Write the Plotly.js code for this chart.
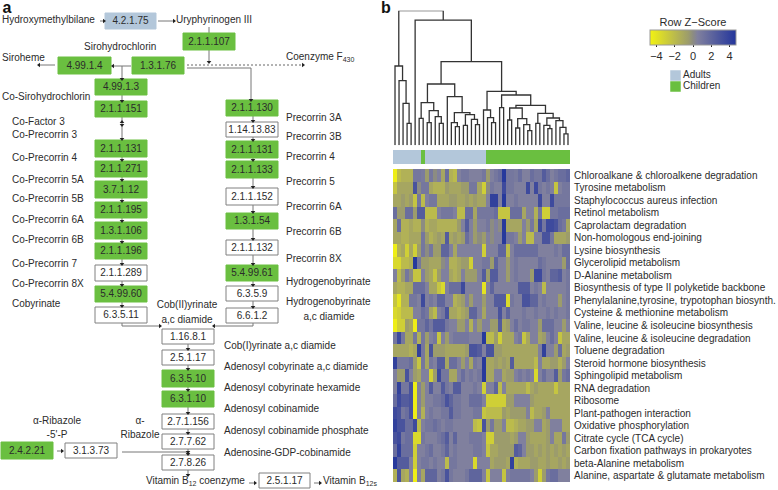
<!DOCTYPE html>
<html><head><meta charset="utf-8">
<script src="https://cdn.plot.ly/plotly-3.0.1.min.js"></script>
<style>html,body{margin:0;padding:0;background:#fff}#c{width:778px;height:490px}.scatterlayer .js-line{stroke-linejoin:miter !important}</style></head>
<body><div id="c"></div>
<script>
const W=778,H=490;
/* ---------- panel b data ---------- */
const pathways=["Chloroalkane & chloroalkene degradation","Tyrosine metabolism","Staphylococcus aureus infection","Retinol metabolism","Caprolactam degradation","Non-homologous end-joining","Lysine biosynthesis","Glycerolipid metabolism","D-Alanine metabolism","Biosynthesis of type II polyketide backbone","Phenylalanine,tyrosine, trypotophan biosynth.","Cysteine & methionine metabolism","Valine, leucine & isoleucine biosynthesis","Valine, leucine & isoleucine degradation","Toluene degradation","Steroid hormone biosynthesis","Sphingolipid metabolism","RNA degradation","Ribosome","Plant-pathogen interaction","Oxidative phosphorylation","Citrate cycle (TCA cycle)","Carbon fixation pathways in prokaryotes","beta-Alanine metabolism","Alanine, aspartate & glutamate metabolism"];
const zscores=[
[-4.5,-2,-1.5,-1.5,-1.5,1,1,.8,-.5,1,0, .5,-1,1.5,-1.5,-2,.5,1,1,.5,.5,.5, 1,-.5,.5,1,1.5,4.5,1,1,.8,1.5,.5, .5,1.5,1,1,2.5,1.5,.5,1,1.5,1.5,2],
[-2.5,-1,-1,-1,-1,3,0,1,1,-1,-1.5, -1.5,-1.5,-.5,-1,-1,-1,-.5,-.5,1,1,-1, -3,0,1,.5,.5,3.5,1,1,.5,.5,.5, 3.5,.5,3.5,1,.5,1,.5,-2.5,.5,1,1],
[-1,-1,-.5,-1,-.5,-2.5,1,-2,.5,1,1, -1,-1,-1,-.5,-.5,-1,-1,-.5,-1,-.5,-1, -1,.5,4,4,.5,4.5,.5,.5,1,.5,.5, .5,.5,.5,3.5,.5,.5,3.5,1,1,1,1],
[1.5,-.5,-.5,1.5,1.5,-.5,2.5,2.5,-2,-2,-2, .5,1,1,1,.5,-2,-2,1.5,1.5,-1,1,1, 1,1,1.5,-2.5,-2.5,-2.5,1.5,1.5,1.5,-1, .5,.5,-1.5,1,-3,-3,1,1,1.5,1.5,1.5],
[-1,1.5,-1.5,-1.5,-1,-1.5,-1.5,0,-1.5,-1,-1, -1.5,-1.5,-1.5,-1.5,-1.5,-.5,.5,2.5,.5,-.5,.5, .5,1,0,.5,0,4.5,-1,-1,-1,-1,.5, -.5,1,-1,3.5,1,3.5,3.5,3,1.5,1,-1],
[-1,-1,-1.5,-1.5,-1,-1,-1,1,-.5,-1.5,-1, -.5,-1,2.5,-1,-.5,-1,-.5,1.5,.5,-.5,0, -.5,.5,0,.5,.5,4.5,1,1,.5,-.5,.5, -2,-2,.5,.5,3,3,1,-1,-1,-1,-.5],
[-4.5,-1.5,-1,-3,-1,-3,-.5,1,0,1,-.5, -.5,2,2,.5,-1,.5,.5,.5,.5,.5,.5, -3,.5,.5,.5,2,2,-2,.5,1.5,1.5,1.5, 1.5,1.5,1.5,.5,.5,.5,.5,1,.5,1.5,1.5],
[-3.5,-3.5,-2,-2,-1.5,4.5,1,-.5,-.5,-1,-1, -1,0,.5,-1.5,-1.5,-1,-.5,-.5,-3,.5,.5, 1,1,-.5,2,.5,.5,-.5,.5,1,.5,.5, .5,.5,.5,1.5,1,.5,.5,.5,.5,-.5,1.5],
[.5,-2,-.5,1,0,-2.5,-2.5,.5,-.5,-1,-2.5, -.5,.5,.5,-1,-1.5,-1,.5,-.5,-.5,-.5,.5, 2.5,-.5,2.5,2.5,.5,.5,-.5,.5,1,.5,.5, .5,-.5,3.5,3.5,1,.5,2,2,2.5,.5,1],
[-1,-1.5,-1.5,-1,-1,1.5,1.5,1.5,.5,-1,-1, -2.5,-3.5,.5,1.5,1.5,1.5,3.5,.5,.5,.5,.5, -4,.5,2,.5,.5,.5,.5,.5,.5,2.5,2.5, 2.5,.5,1,.5,-2,.5,.5,.5,.5,.5,1],
[-2.5,-4,-1.5,-1.5,1,1,.5,3.5,.5,1,.5, 2,2,.5,.5,-1.5,-1,-.5,.5,-.5,.5,.5, -.5,.5,.5,2.5,2.5,2.5,-3.5,1,.5,.5,3,3, 2,2,.5,1,.5,.5,.5,-.5,.5,1],
[-3.5,-3,-2,-2,-2,.5,.5,1.5,1,-1,-2, .5,1,3,-1,-1,-1.5,-1,-.5,2,2,.5, -1,.5,.5,.5,3,.5,2,.5,.5,.5,1, .5,.5,1,.5,.5,1,.5,1,.5,.5,1],
[-4.5,-3,-3,-.5,-1,-4.5,1,1,2,1,2.5, 2.5,2.5,1,.5,.5,-.5,-.5,.5,-1.5,.5,-.5, .5,.5,-.5,-.5,2.5,-1,-.5,.5,1.5,.5,1,1, .5,.5,-.5,1.5,1.5,1.5,.5,.5,-.5,.5],
[1,3.5,1,-1,-1,1,-1.5,1,-.5,.5,1, -2.5,.5,-.5,.5,1,1,1,1,.5,.5,.5, 4.5,-2,-2,-.5,-3,-1, -1,-1,.5,1,-2.5,-1,.5,.5,-1,-.5,.5,1.5,.5,-2.5,-1,-1],
[-1,-1,-1,-1,-1.5,-1,4,1,-1,3,-.5, -.5,-.5,-1,-1,-1,-1,-1,-.5,3,3,2.5, .5,3,3,-.5,-.5,-1, -1,-1,-1,-1,-1,-1,-1,-1,.5,4,.5,.5,-.5,1.5,-1,-.5],
[4,1,1,1,1.5,-.5,-2.5,1,-1,1,.5, 2.5,2.5,-1,1.5,1.5,.5,-.5,.5,-1,1,.5, 4.5,-1,-1,-.5,-1,-.5, -1,2.5,-1,-1,-1,-1,-1,-2,.5,-1,-1,-.5,-.5,-1.5,-.5,.5],
[.5,-.5,-.5,3,.5,-.5,-1,.5,.5,-3,-.5, 3.5,1,1,-1,-1,.5,1.5,.5,1,.5,1, 4.5,-1,-1,.5,.5,-1, -.5,-.5,.5,1,.5,1,.5,-3.5,.5,1.5,.5,.5,2.5,-.5,1,1.5],
[.5,4,1,1,3,-4.5,.5,-.5,.5,2.5,.5, .5,2.5,1,.5,2.5,2.5,.5,.5,.5,1,.5, -3,.5,.5,2,-2,.5, -1,-1,-1,-1,-1,-2,-1,-.5,-1,-1,-1,-1,-2.5,-1,-1,-1],
[1.5,3.5,2.5,2.5,3,-4.5,.5,-.5,.5,.5,1, 1,1.5,3,2,1,1,.5,.5,1.5,1.5,1.5, .5,-3,-3,-3,-3,-3, -.5,-.5,.5,.5,.5,.5,-.5,-1,-1,-1,-1,-1,-1,-1,-1,-1],
[3.5,3,1,1.5,3,-4.5,.5,-1.5,.5,1,.5, .5,1,1,2.5,1,1,.5,.5,.5,1,1, -2.5,-2,-2,-2,-2,-.5, -1,-.5,-.5,-.5,-.5,.5,-2,-1,-1,-.5,.5,-1,-1,-1,-1,-1],
[4,3,3,1.5,1.5,3.5,-2,.5,1,1,1.5, 1,.5,1,1,.5,.5,.5,.5,.5,-2,-2.5, 3,-.5,1,-.5,-.5,.5, -2,-2,-1.5,-1,-1,-.5,-.5,.5,.5,-1,-.5,.5,.5,.5,-1,-1],
[3,3.5,1,1.5,1.5,-3.5,-3.5,1,.5,.5,.5, 1,1.5,2.5,.5,2,.5,.5,.5,1,1,1, .5,-3,-3,-.5,-.5,-.5, -.5,-1,-.5,.5,.5,-.5,-1,-1,-1,-1,-.5,.5,-1,-1,1,-.5],
[1.5,4,1.5,1.5,1.5,-3,.5,.5,1,1.5,.5, .5,1,2,.5,1,.5,.5,.5,.5,1,1, .5,-2.5,-1,-1,-.5,-.5, -.5,-.5,2.5,2,.5,-.5,-.5,-1,-.5,-1,-.5,-1,-.5,-1,-.5,-1],
[4.5,2.5,2.5,2.5,.5,-3,.5,1,1,.5,1, .5,.5,-2,1,1,.5,.5,.5,.5,-3.5,.5, .5,.5,-1,-.5,-.5,-.5, -1,4,-1.5,-1,-1,-1,-.5,-.5,-1,-1,-.5,-1,-1,-.5,-1,-.5],
[-1.5,3,-1,-1.5,.5,-4.5,.5,-1,2,2,2, .5,1,3,1,.5,.5,.5,1,2,2,2, .5,-2.5,.5,.5,.5,-2.5, .5,1,1,1,1,1,.5,-.5,-3,-.5,1,1.5,1.5,.5,.5,.5]
];
const groupCodes=[0,0,0,0,0,0,0,1,0,0,0,0,0,0,0,0,0,0,0,0,0,0,0,1,1,1,1,1,1,1,1,1,1,1,1,1,1,1,1,1,1,1,1,1];
const groupNames=["Adults","Children"];
const tickZ=[-4,-2,0,2,4];
/* dendrogram: [height, left, right]; a number is a leaf (column) */
const dendro=[404,[238,0,[194,1,[126,2,[66,3,4]]]],[376,5,[251,
  [184,
    [128,[81,6,7],[104,[68,8,9],[86,10,[66,11,12]]]],
    [146,13,[98,[68,14,[56,15,16]],[92,[60,17,18],[78,19,[62,20,21]]]]]],
  [162,
    [106,22,[83,23,[68,24,25]]],
    [151,[113,26,27],[120,
      [112,[76,28,29],[80,[52,30,31],[62,32,[44,33,34]]]],
      [96,[66,35,36],[82,[60,37,[50,38,39]],[74,40,[54,41,[34,42,43]]]]]]]]]]];
/* ---------- panel a data ---------- */
const enzymeNames=["4.2.1.75","2.1.1.107","4.99.1.4","1.3.1.76","4.99.1.3","2.1.1.151","2.1.1.131","2.1.1.271","3.7.1.12","2.1.1.195","1.3.1.106","2.1.1.196","2.1.1.289","5.4.99.60","6.3.5.11","2.1.1.130","1.14.13.83","2.1.1.131","2.1.1.133","2.1.1.152","1.3.1.54","2.1.1.132","5.4.99.61","6.3.5.9","6.6.1.2","1.16.8.1","2.5.1.17","6.3.5.10","6.3.1.10","2.7.1.156","2.7.7.62","2.7.8.26","2.4.2.21","3.1.3.73","2.5.1.17"];
const enzymeClass=["a","g","g","g","g","g","g","g","g","g","g","g","w","g","w","g","w","g","g","w","g","w","g","w","w","w","w","g","g","w","w","w","g","w","w"];
const boxLeft=[105,183,58,132,95,95,95,95,95,95,95,95,95,95,95,226,226,226,226,226,226,226,226,226,226,162,162,162,162,162,162,162,1,65,259];
const boxTop=[13,33,57,57,79,101,140,161,181,202,222,243,265,286,307,100,122,141,161,188,213,240,265,286,308,329,350,370,391,414,434,455,442,443,473];
const boxBottom=[29,50,74,74,95,117,157,177,198,218,239,259,281,302,323,116,137,158,178,205,229,255,281,301,323,344,365,387,407,429,449,470,459,458,488];
const boxRight=[156,235,111,184,147,147,147,147,147,147,147,147,147,147,147,278,278,278,278,278,278,278,278,278,278,214,214,214,214,214,214,214,53,117,310];
const leftNames=["Hydroxymethylbilane","Uryphyrinogen III","Sirohydrochlorin","Siroheme","Coenzyme F<sub>430</sub>","Co-Sirohydrochlorin","Co-Factor 3","Co-Precorrin 3","Co-Precorrin 4","Co-Precorrin 5A","Co-Precorrin 5B","Co-Precorrin 6A","Co-Precorrin 6B","Co-Precorrin 7","Co-Precorrin 8X","Cobyrinate","Precorrin 3A","Precorrin 3B","Precorrin 4","Precorrin 5","Precorrin 6A","Precorrin 6B","Precorrin 8X","Hydrogenobyrinate","Hydrogenobyrinate","Cob(I)yrinate a,c diamide","Adenosyl cobyrinate a,c diamide","Adenosyl cobyrinate hexamide","Adenosyl cobinamide","Adenosyl cobinamide phosphate","Adenosine-GDP-cobinamide","Vitamin B<sub>12</sub> coenzyme","Vitamin B<sub>12s</sub>"];
const leftX=[2,176,84,2,286,2,12,12,12,12,12,12,12,12,12,12,286,286,286,286,286,286,286,286,286,224,224,224,224,224,224,146,323];
const leftY=[20,20,47,58,57,97,122,135,158,180,199,220,240,264,284,304,118,137,157,182,207,232,259,282,302,346,367,388,409,431,453,481,481];
const midNames=["a,c diamide","Cob(II)yrinate","a,c diamide","α-Ribazole","-5'-P","α-","Ribazole"];
const midX=[329,187,187,57,57,140,140];
const midY=[317,305,320,421,435,421,435];
const flowSegments=[[100,21,104,21],[158,21,174,21],[209,27,209,33],[209,50,209,62],[131,66,113,66],[55,65,39,65],[122,66,122,79],[122,95,122,101],[122,117,122,140],[187,68,251,68],[251,68,251,100],
[122,157,122,161],[122,177,122,181],[122,198,122,202],[122,218,122,222],[122,239,122,243],[122,259,122,265],[122,281,122,286],[122,302,122,307],
[253,116,253,122],[253,137,253,141],[253,158,253,161],[253,178,253,188],[253,205,253,213],[253,229,253,240],[253,255,253,265],[253,281,253,286],[253,301,253,308],
[188,344,188,350],[188,365,188,370],[188,387,188,391],[188,407,188,414],[188,429,188,434],[188,449,188,455],[188,470,188,476],
[122,323,122,326],[122,326,160,326],[253,323,253,326],[253,326,214,326],[57,451,62,451],[122,452,188,452],[249,483,255,483],[314,483,320,483]];
const dottedSegment=[187,65,303,65];
const headsDown=[[209,62],[122,79],[122,101],[122,125],[122,139],[251,100],[122,160],[122,180],[122,201],[122,221],[122,242],[122,264],[122,285],[122,306],[253,121],[253,140],[253,160],[253,187],[253,212],[253,239],[253,264],[253,285],[253,307],[188,349],[188,369],[188,390],[188,413],[188,433],[188,454],[188,475],[188,452]];
const headsUp=[[122,122]];
const headsRight=[[104,21],[174,21],[303,65],[160,326],[62,451],[255,483],[320,483]];
const headsLeft=[[113,66],[39,65],[214,326]];

const FONT="Liberation Sans, Arial, sans-serif", INK="#2b2b2b", SIZE=10;
const TRACKS={g:"#6abf40",w:"#ffffff",a:"#b3c7da"};
const LINES={g:"#6abf40",w:"#808080",a:"#b3c7da"};
function boxTrace(cls){
  const xs=[],ys=[];
  enzymeClass.forEach((c,i)=>{ if(c!==cls) return;
    xs.push(boxLeft[i],boxRight[i],boxRight[i],boxLeft[i],boxLeft[i],null);
    ys.push(boxTop[i],boxTop[i],boxBottom[i],boxBottom[i],boxTop[i],null);});
  return {type:"scatter",mode:"lines",x:xs,y:ys,fill:"toself",fillcolor:TRACKS[cls],line:{color:LINES[cls],width:1},hoverinfo:"skip",xaxis:"x",yaxis:"y"};
}
function segs(list){const x=[],y=[];list.forEach(s=>{x.push(s[0],s[2],null);y.push(s[1],s[3],null);});return{x,y};}
function heads(list,sym){return {type:"scatter",mode:"markers",x:list.map(p=>p[0]),y:list.map(p=>p[1]),marker:{symbol:sym,size:4,color:"#222"},hoverinfo:"skip",xaxis:"x",yaxis:"y"};}
/* dendrogram through recursion */
const dx=[],dy=[];
function walk(n){
  if(typeof n==="number") return {x:n,h:0};
  const a=walk(n[1]),b=walk(n[2]);
  dx.push(a.x,a.x,b.x,b.x,null);dy.push(a.h,n[0],n[0],b.h,null);
  return {x:(a.x+b.x)/2,h:n[0]};
}
walk(dendro);
const colIdx=groupCodes.map((_,i)=>i);
const f=segs(flowSegments),d=segs([dottedSegment]);
const traces=[
 {type:"scatter",mode:"lines",x:f.x,y:f.y,line:{color:"#777",width:1},hoverinfo:"skip",xaxis:"x",yaxis:"y"},
 {type:"scatter",mode:"lines",x:d.x,y:d.y,line:{color:"#666",width:1,dash:"2px,2px"},hoverinfo:"skip",xaxis:"x",yaxis:"y"},
 boxTrace("g"),boxTrace("w"),boxTrace("a"),
 heads(headsDown,"triangle-down"),heads(headsUp,"triangle-up"),heads(headsRight,"triangle-right"),heads(headsLeft,"triangle-left"),
 {type:"scatter",mode:"text",x:boxLeft.map((v,i)=>(v+boxRight[i])/2),y:boxTop.map((v,i)=>(v+boxBottom[i])/2+.5),text:enzymeNames,textposition:"middle center",textfont:{family:FONT,size:SIZE,color:INK},hoverinfo:"skip",xaxis:"x",yaxis:"y"},
 {type:"scatter",mode:"text",x:leftX,y:leftY,text:leftNames,textposition:"middle right",textfont:{family:FONT,size:SIZE,color:INK},hoverinfo:"skip",xaxis:"x",yaxis:"y"},
 {type:"scatter",mode:"text",x:midX,y:midY,text:midNames,textposition:"middle center",textfont:{family:FONT,size:SIZE,color:INK},hoverinfo:"skip",xaxis:"x",yaxis:"y"},
 {type:"scatter",mode:"text",x:[7,386],y:[8.5,9],text:["<b>a</b>","<b>b</b>"],textposition:"middle center",textfont:{family:FONT,size:16,color:"#111"},hoverinfo:"skip",xaxis:"x",yaxis:"y"},
 {type:"heatmap",x:colIdx,y:pathways,z:zscores,zmin:-4.7,zmax:4.7,xaxis:"x2",yaxis:"y2",
  colorscale:[[0,"#f2f212"],[.447,"#9c9c6c"],[.5,"#8c8c82"],[.553,"#80809e"],[1,"#23359c"]],
  colorbar:{orientation:"h",x:693/W,xanchor:"center",xref:"paper",y:1-18/H,yanchor:"top",yref:"paper",len:86,lenmode:"pixels",thickness:15,thicknessmode:"pixels",
    tickvals:tickZ,ticks:"outside",ticklen:2,tickcolor:"#222",tickfont:{family:FONT,size:11,color:INK},outlinecolor:"#999",outlinewidth:1,xpad:0,ypad:0,
    title:{text:"Row Z−Score",side:"top",font:{family:FONT,size:11,color:INK}}}},
 {type:"heatmap",x:colIdx,y:["group"],z:[groupCodes],zmin:0,zmax:1,showscale:false,xaxis:"x2",yaxis:"y3",colorscale:[[0,"#b3c7da"],[1,"#6abf40"]]},
 {type:"scatter",mode:"lines",x:dx,y:dy,line:{color:"#333",width:1.3},hoverinfo:"skip",xaxis:"x2",yaxis:"y4"},
 {type:"scatter",mode:"markers+text",x:[675.5,675.5],y:[75.5,86.5],text:groupNames,textposition:"middle right",textfont:{family:FONT,size:SIZE,color:INK},marker:{symbol:"square",size:10.5,color:["#b3c7da","#6abf40"]},hoverinfo:"skip",xaxis:"x",yaxis:"y"}
];
const hidden={visible:false,fixedrange:true,showgrid:false,zeroline:false};
const layout={width:W,height:H,margin:{l:0,r:0,t:0,b:0},paper_bgcolor:"#fff",plot_bgcolor:"rgba(0,0,0,0)",showlegend:false,
 xaxis:{...hidden,range:[0,W],domain:[0,1],anchor:"y"},
 yaxis:{...hidden,range:[H,0],domain:[0,1],anchor:"x"},
 xaxis2:{...hidden,range:[-.5,43.5],domain:[393/W,570/W],anchor:"y2"},
 yaxis2:{type:"category",autorange:"reversed",domain:[1-482/H,1-169/H],anchor:"x2",side:"right",showgrid:false,zeroline:false,showline:false,ticks:"outside",ticklen:1,tickcolor:"rgba(0,0,0,0)",tickfont:{family:FONT,size:SIZE,color:INK},automargin:false,tickmode:"array",tickvals:pathways,ticktext:pathways},
 yaxis3:{...hidden,domain:[1-164/H,1-150/H],anchor:"x2"},
 yaxis4:{...hidden,range:[0,404],domain:[1-145.3/H,1-10.7/H],anchor:"x2"}
};
Plotly.newPlot("c",traces,layout,{displayModeBar:false,staticPlot:true});
</script></body></html>
